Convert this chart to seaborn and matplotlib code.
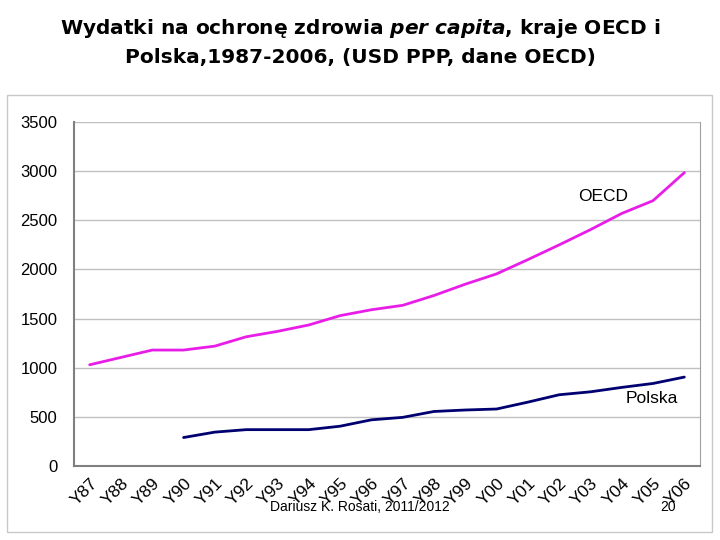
import numpy as np
import pandas as pd
import seaborn as sns
import matplotlib.pyplot as plt
from matplotlib.patches import Rectangle

sns.set_style("white")
plt.rcParams['font.family'] = ['Liberation Sans', 'DejaVu Sans']
plt.rcParams['mathtext.fontset'] = 'custom'
plt.rcParams['mathtext.it'] = 'DejaVu Sans:italic:bold'
plt.rcParams['mathtext.rm'] = 'DejaVu Sans:bold'
plt.rcParams['text.color'] = 'black'
plt.rcParams['xtick.labelcolor'] = 'black'
plt.rcParams['ytick.labelcolor'] = 'black'

# %% data (USD PPP per capita)
years = ['Y87', 'Y88', 'Y89', 'Y90', 'Y91', 'Y92', 'Y93', 'Y94', 'Y95', 'Y96',
         'Y97', 'Y98', 'Y99', 'Y00', 'Y01', 'Y02', 'Y03', 'Y04', 'Y05', 'Y06']
oecd = [1030, 1105, 1180, 1180, 1220, 1315, 1370, 1435, 1530, 1590,
        1635, 1735, 1850, 1955, 2100, 2250, 2405, 2570, 2700, 2985]
polska = [np.nan, np.nan, np.nan, 290, 345, 370, 370, 370, 405, 470,
          495, 555, 570, 580, 650, 725, 755, 800, 840, 905]

d = pd.DataFrame({'pos': np.arange(len(years)), 'OECD': oecd, 'Polska': polska})

# %% figure
fig = plt.figure(figsize=(7.2, 5.4), dpi=100)
ax = fig.add_axes([0.1028, 0.137, 0.8694, 0.637])

sns.lineplot(data=d, x='pos', y='OECD', color='#e81ee8', lw=2, ax=ax)
sns.lineplot(data=d.dropna(), x='pos', y='Polska', color='#000070', lw=2, ax=ax)

ax.set_xlim(-0.5, len(years) - 0.5)
ax.set_ylim(0, 3500)
ax.set_yticks(np.arange(0, 3501, 500))
ax.yaxis.grid(True, color='#c0c0c0', lw=1)
ax.set_axisbelow(True)

ax.set_xticks(np.arange(len(years)))
ax.set_xticklabels(years, rotation=45, ha='right', va='top', rotation_mode='anchor')
ax.set_xticks(np.arange(-0.5, len(years)), minor=True)
ax.tick_params(axis='x', which='major', length=0, labelsize=12.5, pad=7)
ax.tick_params(axis='x', which='minor', length=5, color='#808080', direction='out')
ax.tick_params(axis='y', length=6, color='#808080', direction='out', labelsize=12, pad=6)
ax.set_xlabel('')
ax.set_ylabel('')

for s in ['left', 'bottom']:
    ax.spines[s].set_color('#808080')
    ax.spines[s].set_linewidth(1.5)
ax.spines['right'].set_color('#a0a0a0')
ax.spines['top'].set_visible(False)

ax.text(16.4, 2740, 'OECD', fontsize=12.5, ha='center', va='center')
ax.text(17.95, 690, 'Polska', fontsize=12.5, ha='center', va='center')

# outer frame
fig.patches.append(Rectangle((0.0097, 0.0148), 0.979, 0.809, transform=fig.transFigure,
                             fill=False, edgecolor='#c8c8c8', lw=1))

title_font = dict(family='DejaVu Sans', weight='bold', fontsize=14.5)
fig.text(0.5, 0.948, 'Wydatki na ochronę zdrowia $\\it{per\\ capita}$, kraje OECD i',
         ha='center', va='center', **title_font)
fig.text(0.5, 0.894, 'Polska,1987-2006, (USD PPP, dane OECD)',
         ha='center', va='center', **title_font)

fig.text(0.5, 0.061, 'Dariusz K. Rosati, 2011/2012', ha='center', va='center', fontsize=10)
fig.text(0.928, 0.061, '20', ha='center', va='center', fontsize=10)

plt.savefig('out.png', dpi=100)
